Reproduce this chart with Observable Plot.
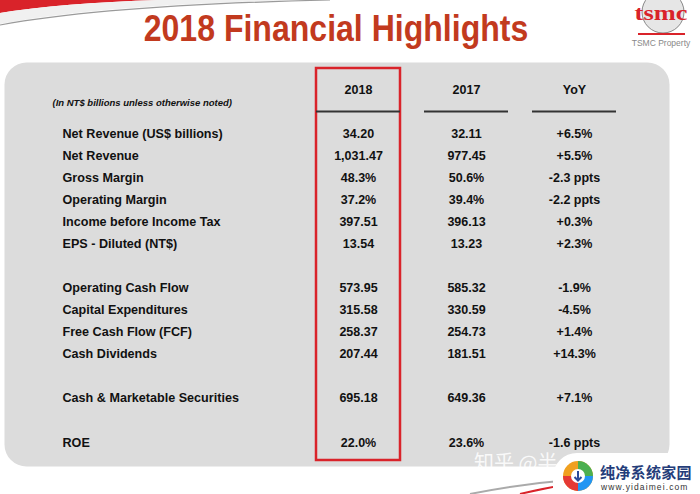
<!DOCTYPE html>
<html>
<head>
<meta charset="utf-8">
<script src="https://cdn.jsdelivr.net/npm/d3@7"></script>
<script src="https://cdn.jsdelivr.net/npm/@observablehq/plot@0.6"></script>
<style>
  body { margin: 0; background: #fff; }
  #wrap { position: relative; width: 700px; height: 494px; overflow: hidden; font-family: "Liberation Sans", Arial, sans-serif; }
  #chart { position: absolute; left: 0; top: 0; }
  #title { position: absolute; left: 0; width: 672px; top: 8px; text-align: center; font-size: 36px; font-weight: bold; color: #c23a1e; transform: scaleX(0.89); transform-origin: 336px 0; white-space: nowrap; }
  #deco { position: absolute; left: 0; top: 0; }
  .logo-t { position: absolute; left: 629px; top: 2px; width: 64px; line-height: 22px; text-align: center; font-family: "Liberation Serif", serif; font-weight: bold; font-size: 22px; color: #d9232a; transform: scaleX(1.2); }
  .logo-p { position: absolute; left: 629px; top: 38px; width: 64px; text-align: center; font-size: 8.5px; color: #888; white-space: nowrap; }
  .wm1 { position: absolute; left: 474px; top: 448px; line-height: 28px; font-family: "Noto Sans CJK SC", sans-serif; font-size: 20px; color: rgba(255,255,255,0.85); white-space: nowrap; }
  .wmbox { position: absolute; left: 553px; top: 453px; width: 160px; height: 50px; background: #fff; border-radius: 24px 0 0 0; }
  .wm2 { position: absolute; left: 600px; top: 461px; line-height: 22px; font-family: "Noto Sans CJK SC", sans-serif; font-weight: bold; font-size: 15px; color: #243d7a; white-space: nowrap; letter-spacing: 0.3px; }
  .wm3 { position: absolute; left: 601px; top: 482px; line-height: 10px; font-size: 8.5px; color: #333; letter-spacing: 1.1px; white-space: nowrap; }
</style>
</head>
<body>
<div id="wrap">
  <svg id="deco" width="700" height="494">
    <path d="M0,0 L160,0 Q60,3 0,13 Z" fill="#d9232a"/>
    <path d="M0,13 Q60,3 160,0 L300,0 Q100,5 0,24 Z" fill="#f0f0f0"/>
    <path d="M0,25 Q110,5 330,0" fill="none" stroke="#9a9a9a" stroke-width="1.2"/>
    <circle cx="663" cy="12" r="21" fill="#e6e6e6" stroke="#888" stroke-width="1"/>
    <line x1="638" y1="34" x2="685" y2="34" stroke="#d9232a" stroke-width="2"/>
    <path d="M470,494 Q520,484 570,480" fill="none" stroke="#aaa" stroke-width="2"/>
    <path d="M520,494 Q545,488 560,486" fill="none" stroke="#d9232a" stroke-width="2"/>
  </svg>
  <div id="chart"></div>
  <div id="title">2018 Financial Highlights</div>
  <div class="logo-t">tsmc</div>
  <div class="logo-p">TSMC Property</div>
  <div class="wm1">知乎 @半</div>
  <div class="wmbox"></div>
  <svg style="position:absolute;left:562px;top:460px" width="32" height="32">
    <circle cx="16" cy="16" r="15" fill="#f0a020"/>
    <path d="M16,1 A15,15 0 0 1 31,16 L16,16 Z" fill="#4caf50"/>
    <path d="M31,16 A15,15 0 0 1 16,31 L16,16 Z" fill="#2196f3"/>
    <path d="M16,31 A15,15 0 0 1 1,16 L16,16 Z" fill="#e53935"/>
    <circle cx="16" cy="16" r="7" fill="#fff"/>
    <path d="M16,11 L16,20 M12.5,17 L16,20.5 L19.5,17" stroke="#2a4a9a" stroke-width="2" fill="none"/>
  </svg>
  <div class="wm2">纯净系统家园</div>
  <div class="wm3">www.yidaimei.com</div>
</div>
<script>
const columns = ["2018", "2017", "YoY"];
const metricLabels = [
  "Net Revenue (US$ billions)", "Net Revenue", "Gross Margin", "Operating Margin",
  "Income before Income Tax", "EPS - Diluted (NT$)", "",
  "Operating Cash Flow", "Capital Expenditures", "Free Cash Flow (FCF)", "Cash Dividends", "",
  "Cash & Marketable Securities", "", "ROE"
];
const values2018 = ["34.20", "1,031.47", "48.3%", "37.2%", "397.51", "13.54", "",
  "573.95", "315.58", "258.37", "207.44", "", "695.18", "", "22.0%"];
const values2017 = ["32.11", "977.45", "50.6%", "39.4%", "396.13", "13.23", "",
  "585.32", "330.59", "254.73", "181.51", "", "649.36", "", "23.6%"];
const valuesYoY = ["+6.5%", "+5.5%", "-2.3 ppts", "-2.2 ppts", "+0.3%", "+2.3%", "",
  "-1.9%", "-4.5%", "+1.4%", "+14.3%", "", "+7.1%", "", "-1.6 ppts"];
const unitNote = "(In NT$ billions unless otherwise noted)";

const HEADER = -2, RULE = -1;
const rows = metricLabels.map((label, i) => ({label, slot: i})).filter(d => d.label);
const cells = [];
metricLabels.forEach((label, i) => {
  if (!label) return;
  cells.push({col: "2018", slot: i, text: values2018[i]});
  cells.push({col: "2017", slot: i, text: values2017[i]});
  cells.push({col: "YoY", slot: i, text: valuesYoY[i]});
});
const lastSlot = metricLabels.length - 1;
const font = "Liberation Sans, Arial, sans-serif";

const chart = Plot.plot({
  width: 700,
  height: 494,
  margin: 0,
  style: {background: "transparent", fontFamily: font},
  x: {type: "band", domain: columns, range: [304, 628], paddingInner: 0.22, paddingOuter: 0.11, axis: null},
  y: {type: "linear", domain: [HEADER, lastSlot], range: [89, 442], axis: null},
  marks: [
    Plot.frame({fill: "#dcdcdc", stroke: "none", insetLeft: 4, insetTop: 62, insetRight: 31, insetBottom: 28, rx: 22, ry: 22}),
    Plot.barY([0], {x: () => "2018", y1: () => HEADER, y2: () => lastSlot, insetTop: -21, insetBottom: -18, fill: "none", stroke: "#d9232a", strokeWidth: 2.5}),
    Plot.tickY(columns, {x: d => d, y: () => RULE, stroke: "#333", strokeWidth: 2}),
    Plot.text(columns, {x: d => d, y: () => HEADER, text: d => d, fontWeight: "bold", fontSize: 12.5, fill: "#111"}),
    Plot.text([unitNote], {frameAnchor: "left", dx: 52, y: () => HEADER, dy: 13, text: d => d, textAnchor: "start", fontStyle: "italic", fontWeight: "bold", fontSize: 9.5, fill: "#111", letterSpacing: 1.05}),
    Plot.text(rows, {frameAnchor: "left", dx: 62, y: "slot", text: "label", textAnchor: "start", fontWeight: "bold", fontSize: 12.6, fill: "#111"}),
    Plot.text(cells, {x: "col", y: "slot", text: "text", fontWeight: "bold", fontSize: 12.5, fill: "#111"})
  ]
});
document.getElementById("chart").appendChild(chart);
</script>
</body>
</html>
